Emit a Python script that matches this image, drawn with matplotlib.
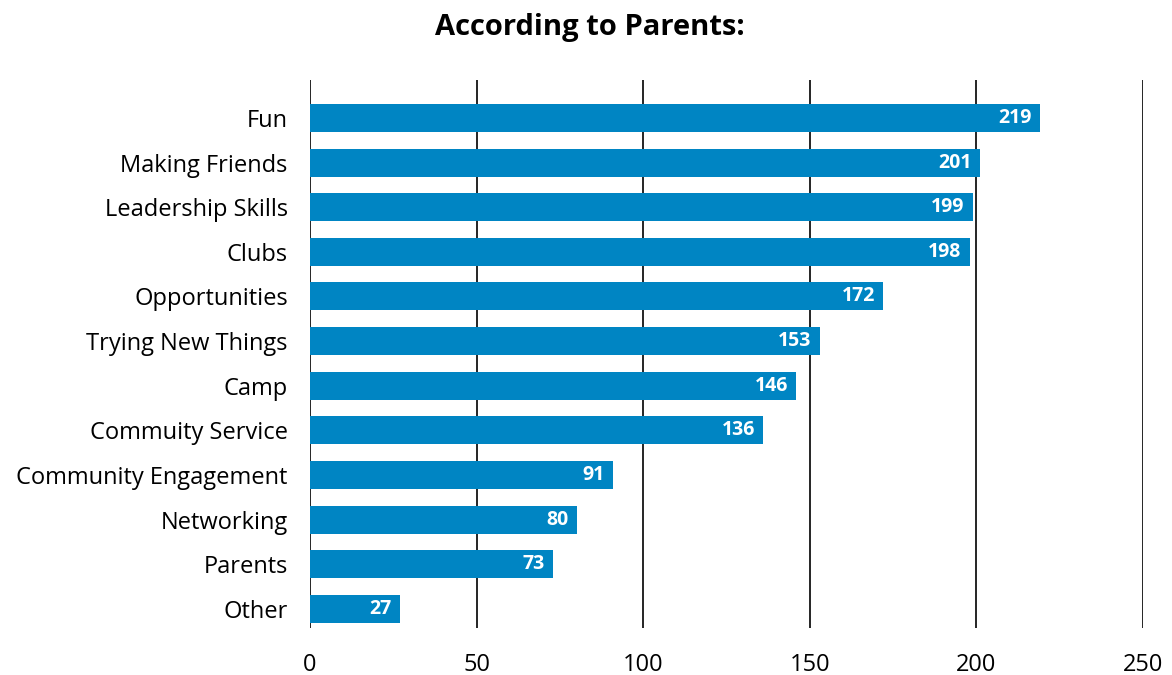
import matplotlib.pyplot as plt

# values
categories = ["Fun", "Making Friends", "Leadership Skills", "Clubs", "Opportunities",
              "Trying New Things", "Camp", "Commuity Service", "Community Engagement",
              "Networking", "Parents", "Other"]
counts = [219, 201, 199, 198, 172, 153, 146, 136, 91, 80, 73, 27]
x_ticks = [0, 50, 100, 150, 200, 250]

BAR_COLOR = "#0085C3"
plt.rcParams['font.family'] = ['Open Sans', 'DejaVu Sans']

fig = plt.figure(figsize=(11.72, 6.75), dpi=100)
ax = fig.add_axes([310 / 1172, 1 - 628 / 675, (1143 - 310) / 1172, (628 - 80) / 675])

y_pos = list(range(len(categories)))
ax.barh(y_pos, counts, height=0.63, color=BAR_COLOR, zorder=3)

for x in x_ticks:
    ax.axvline(x, color="black", lw=1.2, zorder=2)

ax.set_xlim(0, 250)
ax.set_ylim(len(categories) - 1 + 0.43, -0.85)
ax.set_xticks(x_ticks)
ax.set_xticklabels([str(t) for t in x_ticks], fontsize=17)
ax.set_yticks(y_pos)
ax.set_yticklabels(categories, fontsize=17)
ax.tick_params(length=0)
ax.tick_params(axis='x', pad=18)
ax.tick_params(axis='y', pad=16)
for side in ["top", "right", "bottom", "left"]:
    ax.spines[side].set_visible(False)

# value labels inside bar ends
for i, v in enumerate(counts):
    ax.text(v - 2.5, i, str(v), color="white", fontweight="bold", fontsize=14,
            ha="right", va="center", zorder=4)

fig.text(0.503, 1 - 27 / 675, "According to Parents:", ha="center", va="center",
         fontsize=21, fontweight="bold")

fig.savefig("out.png", dpi=100)
